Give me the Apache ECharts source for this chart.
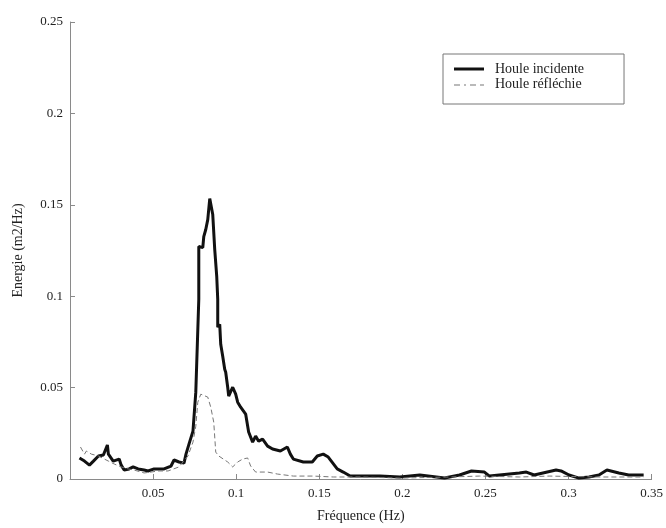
<!DOCTYPE html>
<html>
<head>
<meta charset="utf-8">
<script src="https://cdn.jsdelivr.net/npm/echarts@6/dist/echarts.min.js"></script>
<style>
  html, body { margin: 0; padding: 0; background: #fff; }
  #chart { width: 666px; height: 528px; }
</style>
</head>
<body>
<div id="chart"></div>
<script>
// spectre houle incidente / réfléchie
const incFreq = [0.0057, 0.0087, 0.0117, 0.0141, 0.0171, 0.0201, 0.0225, 0.0231, 0.0260, 0.0296, 0.0308, 0.0326, 0.0356, 0.0380, 0.0410, 0.0446, 0.0470, 0.0506, 0.0566, 0.0608, 0.0626, 0.0656, 0.0686, 0.0698, 0.0716, 0.0740, 0.0757, 0.0775, 0.0775, 0.0799, 0.0805, 0.0817, 0.0829, 0.0841, 0.0853, 0.0859, 0.0871, 0.0883, 0.0889, 0.0889, 0.0901, 0.0907, 0.0919, 0.0931, 0.0937, 0.0949, 0.0955, 0.0979, 0.0991, 0.0997, 0.1009, 0.1027, 0.1039, 0.1057, 0.1075, 0.1099, 0.1117, 0.1135, 0.1159, 0.1189, 0.1219, 0.1266, 0.1308, 0.1326, 0.1344, 0.1404, 0.1458, 0.1488, 0.1524, 0.1554, 0.1608, 0.1644, 0.1686, 0.1746, 0.1865, 0.1985, 0.2105, 0.2254, 0.2344, 0.2416, 0.2494, 0.2524, 0.2584, 0.2704, 0.2746, 0.2793, 0.2925, 0.2955, 0.3003, 0.3063, 0.3123, 0.3183, 0.3231, 0.3303, 0.3362, 0.3452]
const incEnergy = [0.0115, 0.0098, 0.0076, 0.0098, 0.0126, 0.0131, 0.0186, 0.0136, 0.0098, 0.0109, 0.0076, 0.0049, 0.0055, 0.0066, 0.0055, 0.0049, 0.0044, 0.0055, 0.0055, 0.0071, 0.0104, 0.0093, 0.0087, 0.0136, 0.0191, 0.0262, 0.0475, 0.0983, 0.1272, 0.1266, 0.1326, 0.1365, 0.1419, 0.1534, 0.1528, 0.1447, 0.1255, 0.1108, 0.0983, 0.0830, 0.0846, 0.0737, 0.0671, 0.0600, 0.0584, 0.0502, 0.0453, 0.0502, 0.0508, 0.0464, 0.0420, 0.0393, 0.0393, 0.0355, 0.0257, 0.0202, 0.0235, 0.0207, 0.0218, 0.0180, 0.0164, 0.0153, 0.0175, 0.0136, 0.0109, 0.0093, 0.0093, 0.0126, 0.0136, 0.0120, 0.0055, 0.0038, 0.0016, 0.0016, 0.0016, 0.0011, 0.0022, 0.0005, 0.0022, 0.0044, 0.0038, 0.0016, 0.0022, 0.0033, 0.0038, 0.0022, 0.0049, 0.0044, 0.0022, 0.0005, 0.0011, 0.0022, 0.0049, 0.0033, 0.0022, 0.0022]

const refFreq = [0.0063, 0.0087, 0.0099, 0.0129, 0.0171, 0.0207, 0.0231, 0.0266, 0.0308, 0.0350, 0.0386, 0.0446, 0.0488, 0.0530, 0.0590, 0.0656, 0.0710, 0.0740, 0.0757, 0.0769, 0.0787, 0.0799, 0.0829, 0.0847, 0.0865, 0.0877, 0.0895, 0.0949, 0.0979, 0.1009, 0.1039, 0.1069, 0.1087, 0.1117, 0.1189, 0.1249, 0.1344, 0.1464, 0.1584, 0.1746, 0.1985, 0.2284, 0.2464, 0.2704, 0.2883, 0.3183, 0.3452]
const refEnergy = [0.0175, 0.0136, 0.0153, 0.0136, 0.0126, 0.0109, 0.0098, 0.0082, 0.0066, 0.0055, 0.0049, 0.0033, 0.0038, 0.0044, 0.0044, 0.0066, 0.0126, 0.0202, 0.0289, 0.0420, 0.0464, 0.0469, 0.0448, 0.0393, 0.0311, 0.0147, 0.0126, 0.0093, 0.0066, 0.0093, 0.0109, 0.0115, 0.0071, 0.0038, 0.0038, 0.0027, 0.0016, 0.0016, 0.0011, 0.0011, 0.0005, 0.0011, 0.0016, 0.0011, 0.0016, 0.0011, 0.0011]

const xTicks = [0, 0.05, 0.1, 0.15, 0.2, 0.25, 0.3, 0.35]
const yTicks = [0, 0.05, 0.1, 0.15, 0.2, 0.25]

const pairs = (xs, ys) => xs.map((x, i) => [x, ys[i]])

const font = 'Liberation Serif'
const axisCommon = {
  axisLine: { show: true, lineStyle: { color: '#8a8a8a', width: 1 } },
  axisTick: { show: true, inside: true, length: 5, lineStyle: { color: '#8a8a8a' } },
  splitLine: { show: false },
  nameLocation: 'middle',
  nameTextStyle: { fontFamily: font, fontSize: 14, color: '#222' },
  axisLabel: { fontFamily: font, fontSize: 13, color: '#222' }
}

// icônes de légende : trait plein et tiret-point
const solidIcon = 'path://M0,0 L30,0 L30,3 L0,3 Z'
const dashIcon = 'path://M0,2 L6,2 L6,3 L0,3 Z M10,2 L12,2 L12,3 L10,3 Z M16,2 L22,2 L22,3 L16,3 Z M26,2 L30,2 L30,3 L26,3 Z M0,0 L0.01,0 Z'

const myChart = echarts.init(document.getElementById('chart'), null, { renderer: 'canvas' })
myChart.setOption({
  animation: false,
  backgroundColor: '#fff',
  grid: { left: 70, right: 13, top: 22, bottom: 48 },
  legend: {
    orient: 'vertical',
    left: 443,
    top: 54,
    padding: [8, 40, 13, 11],
    itemGap: 1,
    itemWidth: 30,
    itemHeight: 14,
    borderColor: '#777',
    borderWidth: 1,
    backgroundColor: '#fff',
    textStyle: { fontFamily: font, fontSize: 14, color: '#222', padding: [0, 0, 0, 6] },
    data: [
      { name: 'Houle incidente', icon: solidIcon },
      { name: 'Houle réfléchie', icon: dashIcon }
    ]
  },
  xAxis: {
    ...axisCommon,
    type: 'value',
    min: xTicks[0],
    max: xTicks[xTicks.length - 1],
    interval: 0.05,
    name: 'Fréquence (Hz)',
    nameGap: 30,
    axisLabel: { ...axisCommon.axisLabel, margin: 8, showMinLabel: false,
      formatter: v => String(+v.toFixed(2)) }
  },
  yAxis: {
    ...axisCommon,
    type: 'value',
    min: yTicks[0],
    max: yTicks[yTicks.length - 1],
    interval: 0.05,
    name: 'Energie (m2/Hz)',
    nameGap: 45,
    axisLabel: { ...axisCommon.axisLabel, margin: 7,
      formatter: v => String(+v.toFixed(2)) }
  },
  series: [
    {
      name: 'Houle incidente',
      type: 'line',
      data: pairs(incFreq, incEnergy),
      showSymbol: false,
      symbol: 'none',
      itemStyle: { color: '#111' },
      lineStyle: { color: '#111', width: 3 }
    },
    {
      name: 'Houle réfléchie',
      type: 'line',
      data: pairs(refFreq, refEnergy),
      showSymbol: false,
      symbol: 'none',
      itemStyle: { color: '#777' },
      lineStyle: { color: '#777', width: 1, type: [5, 3] }
    }
  ]
})
</script>
</body>
</html>
